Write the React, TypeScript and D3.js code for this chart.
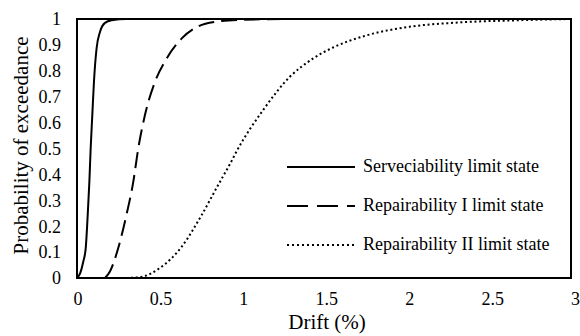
import React, { useRef, useEffect } from "react";
import * as d3 from "d3";

// drift (%) / probability pairs
const serviceDrift = [0, 0.02, 0.038, 0.053, 0.065, 0.075, 0.083, 0.093, 0.103, 0.119, 0.14, 0.17, 0.21, 0.3, 3];
const serviceProb = [0, 0.02, 0.063, 0.115, 0.243, 0.37, 0.5, 0.63, 0.758, 0.887, 0.951, 0.985, 0.995, 1, 1];

const repairIDrift = [0.17, 0.2, 0.25, 0.3, 0.342, 0.372, 0.413, 0.474, 0.545, 0.636, 0.737, 0.85, 1.0, 1.3, 3];
const repairIProb = [0, 0.025, 0.115, 0.243, 0.372, 0.5, 0.63, 0.758, 0.848, 0.925, 0.972, 0.99, 0.997, 1, 1];

const repairIIDrift = [0.3, 0.38, 0.5, 0.636, 0.757, 0.858, 0.929, 0.97, 1.131, 1.293, 1.435, 1.555, 1.76, 2.02, 2.33, 2.67, 3];
const repairIIProb = [0, 0.003, 0.037, 0.121, 0.243, 0.36, 0.44, 0.49, 0.649, 0.777, 0.848, 0.89, 0.937, 0.97, 0.987, 0.995, 1];

const seriesNames = [
    "Serveciability limit state",
    "Repairability I limit state",
    "Repairability II limit state",
];
const xTicks = [0, 0.5, 1, 1.5, 2, 2.5, 3];
const yTicks = [0, 0.1, 0.2, 0.3, 0.4, 0.5, 0.6, 0.7, 0.8, 0.9, 1];

const FONT = "'Liberation Serif', 'Times New Roman', serif";

const FragilityChart: React.FC = () => {
    const svgRef = useRef<SVGSVGElement | null>(null);

    useEffect(() => {
        if (!svgRef.current) return;
        const svg = d3.select(svgRef.current);
        svg.selectAll("*").remove();

        const left = 77, right = 571, top = 19, bottom = 278;
        const x = d3.scaleLinear().domain([0, 3]).range([left, right]);
        const y = d3.scaleLinear().domain([0, 1]).range([bottom, top]);

        const series = [
            { xs: serviceDrift, ps: serviceProb, dash: null, legendDash: null },
            { xs: repairIDrift, ps: repairIProb, dash: "16,7", legendDash: "21,9" },
            { xs: repairIIDrift, ps: repairIIProb, dash: "2,2.7", legendDash: "2,3" },
        ];

        const line = d3
            .line<[number, number]>()
            .x((d) => x(d[0]))
            .y((d) => y(d[1]))
            .curve(d3.curveMonotoneX);

        series.forEach((s) => {
            const pts = s.xs.map((v, i) => [v, s.ps[i]] as [number, number]);
            svg.append("path")
                .attr("d", line(pts) as string)
                .attr("fill", "none")
                .attr("stroke", "#000")
                .attr("stroke-width", 2)
                .attr("stroke-dasharray", s.dash);
        });

        // plot frame
        svg.append("rect")
            .attr("x", left)
            .attr("y", top)
            .attr("width", right - left)
            .attr("height", bottom - top)
            .attr("fill", "none")
            .attr("stroke", "#000")
            .attr("stroke-width", 2);

        svg.append("g")
            .selectAll("text")
            .data(yTicks)
            .enter()
            .append("text")
            .attr("x", 61)
            .attr("y", (d) => y(d))
            .attr("dy", "0.35em")
            .attr("text-anchor", "end")
            .attr("font-family", FONT)
            .attr("font-size", 18)
            .text((d) => String(d));

        svg.append("g")
            .selectAll("text")
            .data(xTicks)
            .enter()
            .append("text")
            .attr("x", (d) => x(d) + 1 + d * 1.2)
            .attr("y", 305)
            .attr("text-anchor", "middle")
            .attr("font-family", FONT)
            .attr("font-size", 18)
            .text((d) => String(d));

        svg.append("text")
            .attr("x", 327)
            .attr("y", 329)
            .attr("text-anchor", "middle")
            .attr("font-family", FONT)
            .attr("font-size", 21)
            .text("Drift (%)");

        svg.append("text")
            .attr("transform", `translate(28,${(top + bottom) / 2 - 3}) rotate(-90)`)
            .attr("text-anchor", "middle")
            .attr("font-family", FONT)
            .attr("font-size", 21)
            .text("Probability of exceedance");

        const legend = svg.append("g");
        const legendLineY = [167, 206, 245];
        const legendTextY = [171.5, 211, 250];
        series.forEach((s, i) => {
            legend.append("line")
                .attr("x1", 287)
                .attr("x2", 355)
                .attr("y1", legendLineY[i])
                .attr("y2", legendLineY[i])
                .attr("stroke", "#000")
                .attr("stroke-width", 2)
                .attr("stroke-dasharray", s.legendDash);
            legend.append("text")
                .attr("x", 363)
                .attr("y", legendTextY[i])
                .attr("font-family", FONT)
                .attr("font-size", 18)
                .text(seriesNames[i]);
        });
    }, []);

    return (
        <svg
            ref={svgRef}
            width={580}
            height={336}
            style={{ position: "absolute", left: 0, top: 0, background: "#fff" }}
        ></svg>
    );
};

export default function App() {
    return <FragilityChart />;
}
